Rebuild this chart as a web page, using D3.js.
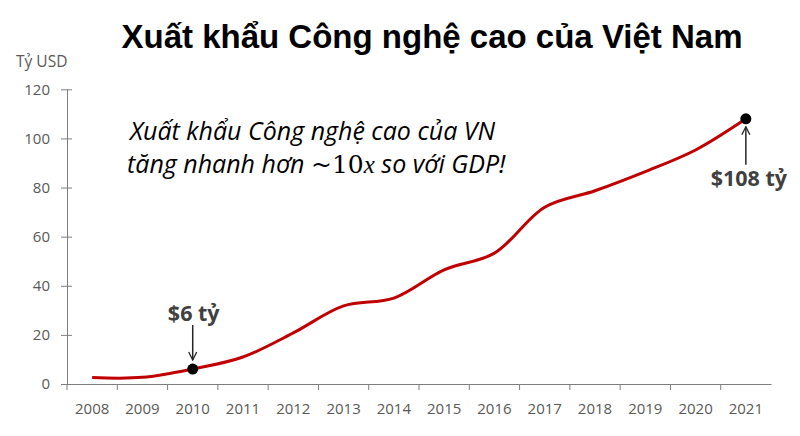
<!DOCTYPE html>
<html><head><meta charset="utf-8">
<script src="https://cdn.jsdelivr.net/npm/d3@7"></script>
<style>body{margin:0;background:#fff;} svg{display:block;}</style>
</head><body>
<svg id="chart" width="800" height="436"></svg>
<script>
const years = ["2008","2009","2010","2011","2012","2013","2014","2015","2016","2017","2018","2019","2020","2021"];
const exports = [2.6, 2.7, 6.1, 11, 20.8, 31.8, 35, 46.5, 53.3, 72, 78.7, 86.5, 95.3, 108];
const yTicks = [0, 20, 40, 60, 80, 100, 120];
const highlights = [{year:"2010", value:6.1, label:"$6 tỷ", pos:"above"}, {year:"2021", value:108, label:"$108 tỷ", pos:"below"}];

(function(){
const svg = d3.select("#chart");
const mLeft = 67, mRight = 771, mTop = 89.3, mBottom = 384;
const x = d3.scaleBand().domain(years).range([mLeft, mRight]);
const y = d3.scaleLinear().domain([0, 120]).range([mBottom, mTop]);
const axisColor = "#7f7f7f", textColor = "#595959";
const font = "'Open Sans', 'Liberation Sans', sans-serif";

svg.append("text").attr("x", 432).attr("y", 48).attr("text-anchor", "middle")
  .attr("font-family", "'Liberation Sans', Arial, sans-serif").attr("font-weight", "bold")
  .attr("font-size", 33).attr("fill", "#000").text("Xuất khẩu Công nghệ cao của Việt Nam");

svg.append("text").attr("x", 16).attr("y", 67).attr("font-family", font)
  .attr("font-size", 15.5).attr("fill", textColor).text("Tỷ USD");

const yAxis = svg.append("g").attr("transform", `translate(${mLeft},0)`)
  .call(d3.axisLeft(y).tickValues(yTicks).tickSize(6).tickSizeOuter(0));
yAxis.select(".domain").attr("stroke", axisColor);
yAxis.selectAll(".tick line").attr("stroke", axisColor).attr("x2", 5).attr("x1", -6);
yAxis.selectAll(".tick text").attr("font-family", font).attr("font-size", 15)
  .attr("fill", textColor).attr("x", -17);

const xAxis = svg.append("g").attr("transform", `translate(0,${mBottom})`)
  .call(d3.axisBottom(x).tickSize(0).tickSizeOuter(0));
xAxis.select(".domain").attr("stroke", axisColor);
xAxis.selectAll(".tick text").attr("font-family", font).attr("font-size", 15)
  .attr("fill", textColor).attr("dy", 0).attr("y", 30);
const bounds = years.map(d => x(d));
xAxis.selectAll(".btick").data(bounds).enter().append("line").attr("class","btick")
  .attr("x1", d => d).attr("x2", d => d).attr("y1", 0).attr("y2", 6).attr("stroke", axisColor);

const cx = d => x(d) + x.bandwidth()/2;
const line = d3.line().x((d,i) => cx(years[i])).y(d => y(d)).curve(d3.curveCatmullRom.alpha(0.5));
svg.append("path").datum(exports).attr("d", line).attr("fill", "none")
  .attr("stroke", "#c00000").attr("stroke-width", 3);

svg.append("defs").append("marker").attr("id","arr").attr("viewBox","0 0 10 10")
  .attr("refX", 9).attr("refY", 5).attr("markerWidth", 10).attr("markerHeight", 10)
  .attr("markerUnits","userSpaceOnUse").attr("orient","auto")
  .append("path").attr("d","M1,1 L9,5 L1,9").attr("fill","none").attr("stroke","#262626").attr("stroke-width",1.3);

highlights.forEach(h => {
  const px = cx(h.year), py = y(h.value);
  if (h.pos === "above") {
    svg.append("line").attr("x1", px).attr("x2", px).attr("y1", py - 44).attr("y2", py - 9)
      .attr("stroke", "#262626").attr("stroke-width", 1.5).attr("marker-end","url(#arr)");
    svg.append("text").attr("x", px + 1).attr("y", py - 48).attr("text-anchor","middle")
      .attr("font-family", font).attr("font-weight","bold").attr("font-size", 21.5)
      .attr("fill", "#404040").text(h.label);
  } else {
    svg.append("line").attr("x1", px).attr("x2", px).attr("y1", py + 46).attr("y2", py + 8)
      .attr("stroke", "#262626").attr("stroke-width", 1.5).attr("marker-end","url(#arr)");
    svg.append("text").attr("x", px + 3).attr("y", py + 67).attr("text-anchor","middle")
      .attr("font-family", font).attr("font-weight","bold").attr("font-size", 21.5)
      .attr("fill", "#404040").text(h.label);
  }
  svg.append("circle").attr("cx", px).attr("cy", py).attr("r", 5.5).attr("fill", "#000");
});

const ann = svg.append("g").attr("font-family", font).attr("font-style","italic")
  .attr("font-size", 25).attr("fill", "#000");
ann.append("text").attr("x", 130).attr("y", 140).text("Xuất khẩu Công nghệ cao của VN");
const t2 = ann.append("text").attr("x", 127).attr("y", 173);
t2.append("tspan").text("tăng nhanh hơn ");
t2.append("tspan").attr("font-family","'DejaVu Serif', 'Liberation Serif', serif").attr("font-style","normal").text("~10");
t2.append("tspan").attr("font-family","'Liberation Serif', serif").attr("font-style","italic").text("x");
t2.append("tspan").text(" so với GDP!");
})();
</script>
</body></html>
